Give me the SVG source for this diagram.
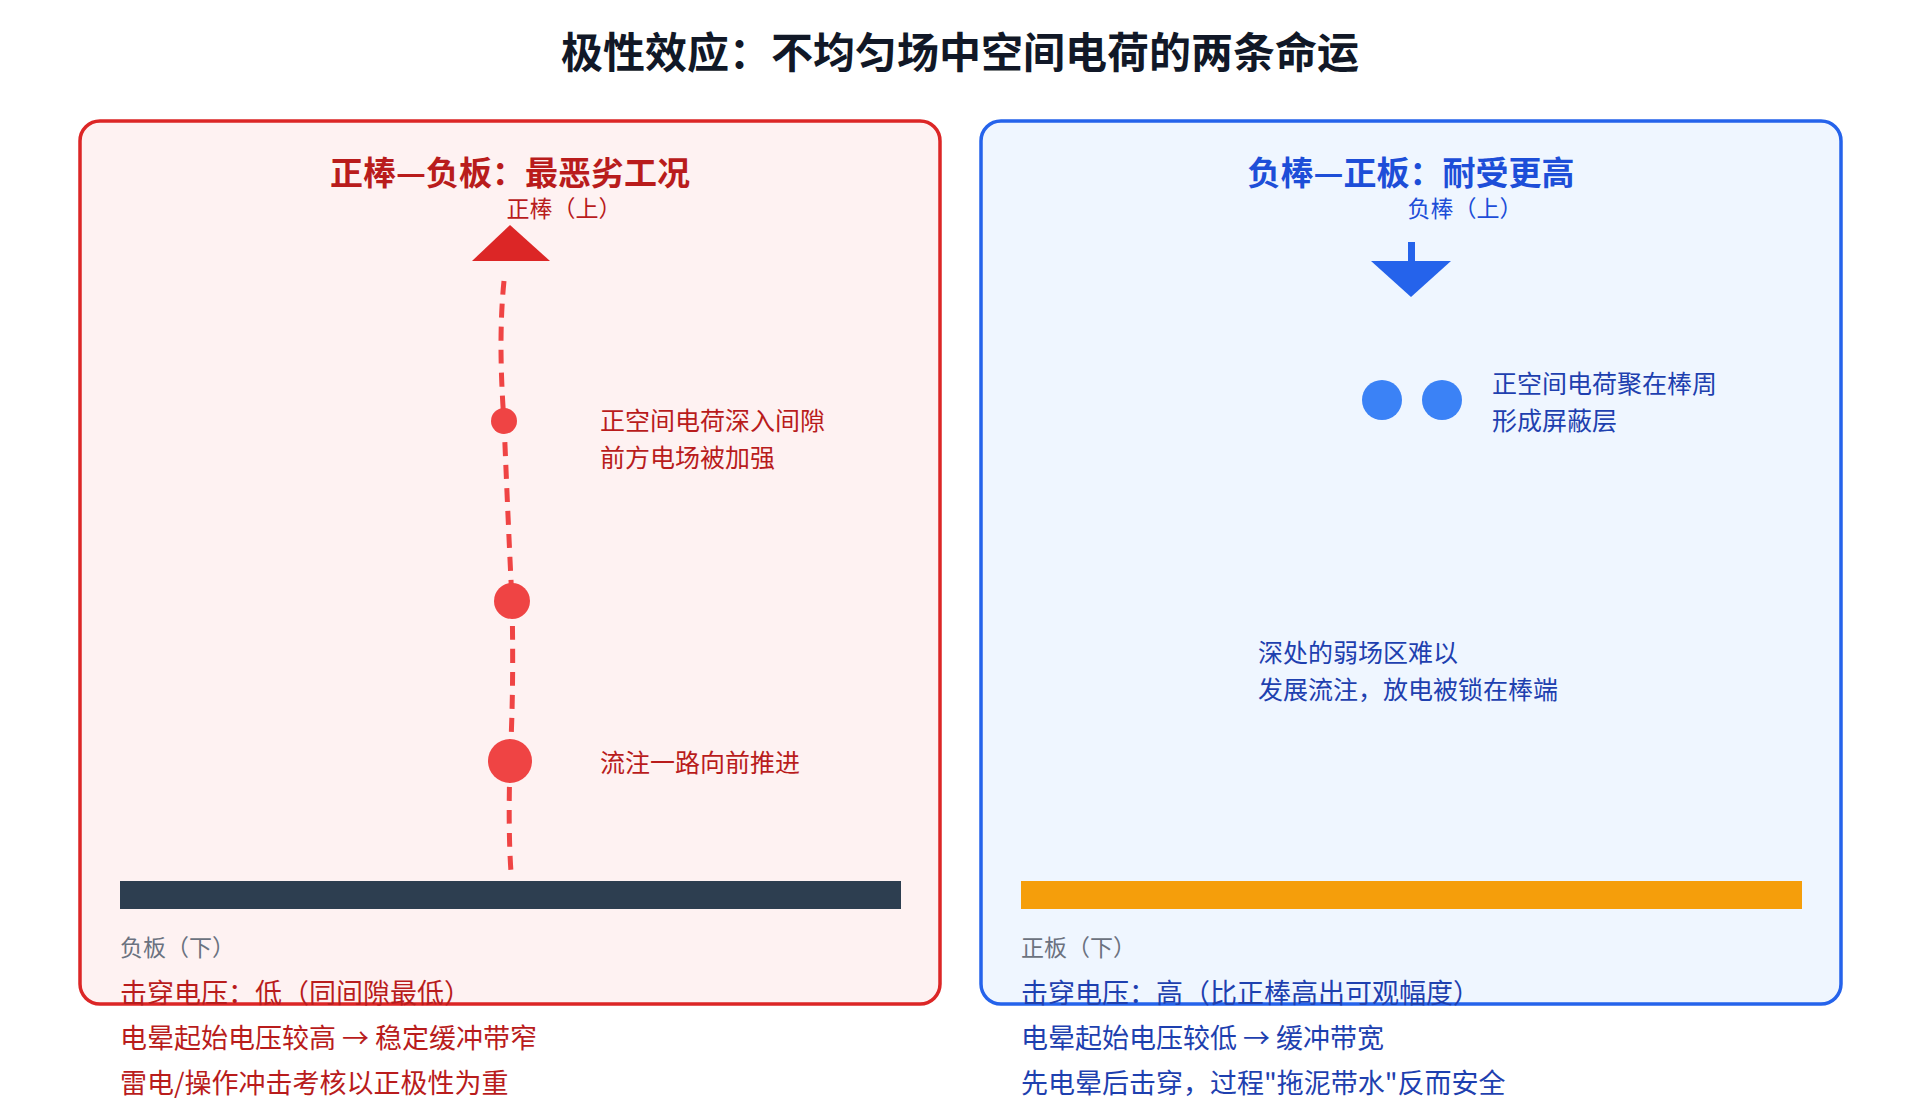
<svg xmlns="http://www.w3.org/2000/svg" width="1920" height="1120" viewBox="0 0 1920 1120">
<style>
text{font-family:"Noto Sans CJK SC","Noto Sans",sans-serif}
.t{font-size:42px;font-weight:700;fill:#111827}
.h{font-size:33px;font-weight:700;text-anchor:middle}
.s{font-size:25px}
.m{font-size:23px}
.n{font-size:27px}
.r{fill:#b91c1c}.b{fill:#1e40af}.g{fill:#6b7280}
</style>
<rect width="1920" height="1120" fill="#fff"/>
<text class="t" x="960" y="68" text-anchor="middle">极性效应：不均匀场中空间电荷的两条命运</text>
<g id="panel-left">
<rect x="80" y="121" width="860" height="883" rx="20" fill="#fef2f2" stroke="#dc2626" stroke-width="3.5"/>
<text class="h r" x="510" y="185">正棒—负板：最恶劣工况</text>
<text class="m r" x="564" y="217" text-anchor="middle">正棒（上）</text>
<polygon points="510,225 550,261 472,261" fill="#dc2626"/>
<rect x="120" y="881" width="781" height="28" fill="#2d3e50"/>
<text class="m g" x="120" y="956">负板（下）</text>
</g>
<g id="connectors">
<path d="M504,281 Q498,340 504,421 Q508,520 512,601 Q514,690 510,761 Q508,830 511,872" fill="none" stroke="#ef4444" stroke-width="5" stroke-dasharray="14 9"/>
<line x1="1411" y1="463" x2="1411" y2="869" stroke="#93c5fd" stroke-width="4" stroke-dasharray="7 9"/>
</g>
<g id="left-charges">
<circle cx="504" cy="421" r="13" fill="#ef4444"/>
<circle cx="512" cy="601" r="18" fill="#ef4444"/>
<circle cx="510" cy="761" r="22" fill="#ef4444"/>
<text class="s r" x="600" y="430">正空间电荷深入间隙</text>
<text class="s r" x="600" y="467">前方电场被加强</text>
<text class="s r" x="600" y="772">流注一路向前推进</text>
</g>
<g id="left-notes">
<text class="n r" x="120" y="1003">击穿电压：低（同间隙最低）</text>
<text class="n r" x="120" y="1048">电晕起始电压较高 → 稳定缓冲带窄</text>
<text class="n r" x="120" y="1093">雷电/操作冲击考核以正极性为重</text>
</g>
<g id="panel-right">
<rect x="981" y="121" width="860" height="883" rx="20" fill="#eff6ff" stroke="#2563eb" stroke-width="3.5"/>
<text class="h" x="1411" y="185" fill="#1d4ed8">负棒—正板：耐受更高</text>
<text class="m" x="1465" y="217" text-anchor="middle" fill="#1d4ed8">负棒（上）</text>
<rect x="1408" y="242" width="7" height="22" fill="#2563eb"/>
<polygon points="1371,261 1451,261 1411,297" fill="#2563eb"/>
<rect x="1021" y="881" width="781" height="28" fill="#f59e0b"/>
<text class="m g" x="1021" y="956">正板（下）</text>
</g>
<g id="right-charges">
<circle cx="1382" cy="400" r="20" fill="#3b82f6"/>
<circle cx="1442" cy="400" r="20" fill="#3b82f6"/>
<text class="s b" x="1492" y="393">正空间电荷聚在棒周</text>
<text class="s b" x="1492" y="430">形成屏蔽层</text>
<text class="s b" x="1258" y="662">深处的弱场区难以</text>
<text class="s b" x="1258" y="699">发展流注，放电被锁在棒端</text>
</g>
<g id="right-notes">
<text class="n b" x="1021" y="1003">击穿电压：高（比正棒高出可观幅度）</text>
<text class="n b" x="1021" y="1048">电晕起始电压较低 → 缓冲带宽</text>
<text class="n b" x="1021" y="1093">先电晕后击穿，过程"拖泥带水"反而安全</text>
</g>
</svg>
